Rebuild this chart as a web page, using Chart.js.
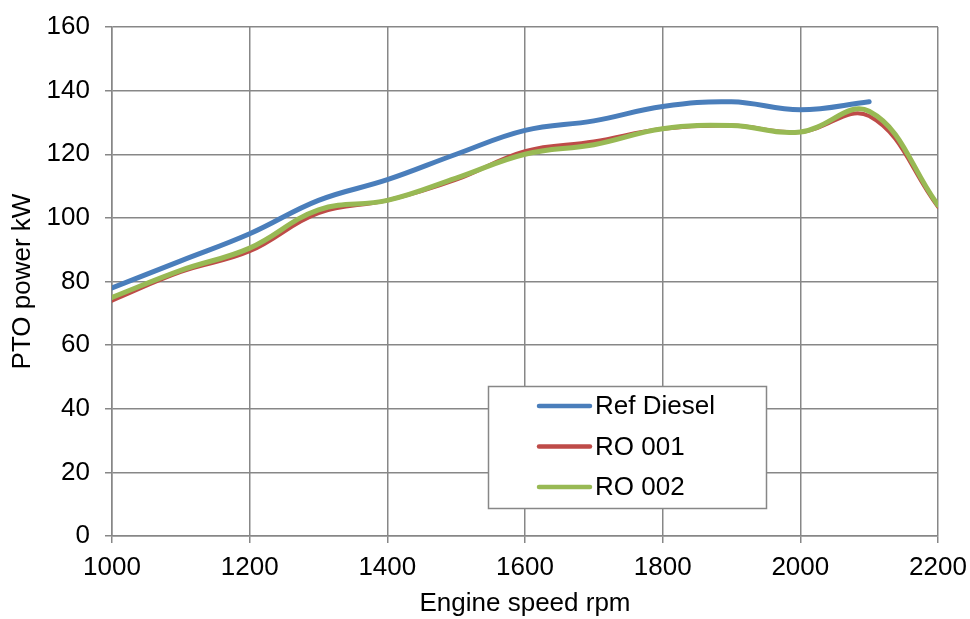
<!DOCTYPE html>
<html>
<head>
<meta charset="utf-8">
<script src="https://cdn.jsdelivr.net/npm/chart.js@4"></script>
<style>
  html, body { margin: 0; padding: 0; background: #fff; }
  #wrap { width: 970px; height: 619px; }
</style>
</head>
<body>
<div id="wrap"><canvas id="c" width="970" height="619"></canvas></div>
<script>
// 엔진 회전수별 PTO 출력
const speeds = [1000, 1100, 1200, 1300, 1400, 1500, 1600, 1700, 1800, 1900, 2000, 2100, 2200];
const refDiesel = [78, 86.5, 95, 105.5, 112, 120, 127.5, 130.5, 135, 136.5, 134, 136.5];
const ro001 = [74, 83, 89.5, 101.5, 105.5, 112, 121, 124, 128, 129, 127, 132, 103.5];
const ro002 = [75, 83.5, 90.5, 102.5, 105.5, 112.5, 120, 123, 128, 129, 127, 133.5, 104];
const seriesNames = ["Ref Diesel", "RO 001", "RO 002"];
const xTicks = [1000, 1200, 1400, 1600, 1800, 2000, 2200];

const FONT = "Liberation Sans, Arial, sans-serif";
const FS = 26;

function pts(vals) {
  return vals.map((v, i) => ({ x: speeds[i], y: v }));
}

// 엑셀식 범례 상자
const boxLegend = {
  id: "boxLegend",
  afterDraw(chart) {
    const ctx = chart.ctx;
    const x0 = 488.5, y0 = 386.5, w = 278, h = 122;
    ctx.save();
    ctx.fillStyle = "#fff";
    ctx.fillRect(x0, y0, w, h);
    ctx.strokeStyle = "#878787";
    ctx.lineWidth = 1.5;
    ctx.strokeRect(x0, y0, w, h);
    ctx.font = FS + "px " + FONT;
    ctx.textBaseline = "middle";
    chart.data.datasets.forEach((ds, i) => {
      const y = 406 + i * 40.5;
      ctx.strokeStyle = ds.borderColor;
      ctx.lineWidth = 4.5;
      ctx.lineCap = "round";
      ctx.beginPath();
      ctx.moveTo(539, y);
      ctx.lineTo(590, y);
      ctx.stroke();
      ctx.fillStyle = "#000";
      ctx.fillText(ds.label, 595, y + 1);
    });
    ctx.restore();
  },
};

new Chart(document.getElementById("c"), {
  type: "line",
  data: {
    datasets: [
      { label: seriesNames[0], data: pts(refDiesel), borderColor: "#4A7EBB", borderWidth: 5, order: 0 },
      { label: seriesNames[1], data: pts(ro001), borderColor: "#BE4B48", borderWidth: 4, order: 2 },
      { label: seriesNames[2], data: pts(ro002), borderColor: "#98B954", borderWidth: 5, order: 1 },
    ],
  },
  options: {
    responsive: false,
    animation: false,
    elements: {
      point: { radius: 0 },
      line: { tension: 0.4, borderCapStyle: "round", fill: false },
    },
    layout: { padding: { left: 0, top: 27, right: 32, bottom: 0 } },
    plugins: { legend: { display: false }, tooltip: { enabled: false } },
    scales: {
      x: {
        type: "linear",
        min: 1000,
        max: 2200,
        afterBuildTicks: (s) => { s.ticks = xTicks.map((v) => ({ value: v })); },
        afterFit: (s) => { s.height = 83; s.paddingLeft = 0; s.paddingRight = 0; },
        ticks: { color: "#000", font: { family: FONT, size: FS }, padding: 9, maxRotation: 0, callback: (v) => String(v) },
        grid: { color: "#878787", lineWidth: 1.5, tickLength: 7 },
        border: { color: "#878787", width: 1.5 },
        title: { display: true, text: "Engine speed rpm", color: "#000", font: { family: FONT, size: FS }, padding: 0 },
      },
      y: {
        min: 0,
        max: 160,
        afterFit: (s) => { s.width = 112; s.paddingTop = 0; s.paddingBottom = 0; },
        ticks: { stepSize: 20, color: "#000", font: { family: FONT, size: FS }, padding: 15 },
        grid: { color: "#878787", lineWidth: 1.5, tickLength: 7 },
        border: { color: "#878787", width: 1.5 },
        title: { display: true, text: "PTO power kW", color: "#000", font: { family: FONT, size: FS }, padding: { top: 7, bottom: 0 } },
      },
    },
  },
  plugins: [boxLegend],
});
</script>
</body>
</html>
